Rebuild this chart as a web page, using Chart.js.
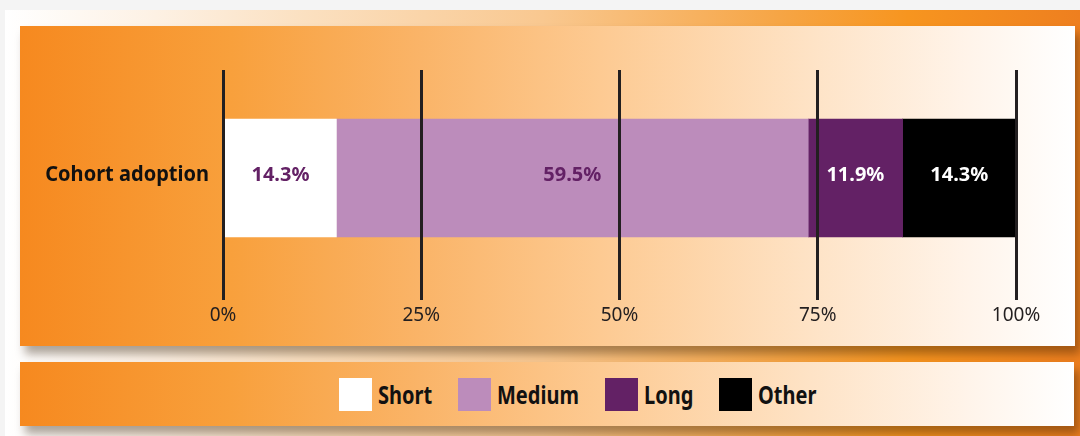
<!DOCTYPE html>
<html>
<head>
<meta charset="utf-8">
<script src="https://cdn.jsdelivr.net/npm/chart.js@4"></script>
<style>
  html, body { margin: 0; padding: 0; }
  body {
    width: 1080px; height: 436px; overflow: hidden; position: relative;
    background: #f4f4f4; font-family: "Noto Sans", sans-serif;
  }
  .frame {
    position: absolute; left: 5px; top: 10px; right: 0; bottom: 0;
    background: linear-gradient(to right, #ffffff 0%, #fdf1e4 14%, #fbe0c0 28%, #f9c890 50%, #f6a545 72%, #f7951f 84%, #ee7f1f 100%);
  }
  .panel {
    position: absolute; left: 20px; width: 1055px;
    background: linear-gradient(to right, #f6891f 0%, #f8a03c 20%, #fab468 38%, #fdca92 55%, #fee3c6 75%, #fff4ea 90%, #ffffff 100%);
    box-shadow: 5px 8px 9px rgba(40, 20, 0, 0.38);
  }
  #chartPanel { top: 26px; height: 320px; }
  #legendPanel { top: 362px; height: 64px; width: 1054px; }
  #legend {
    position: absolute; left: 319px; top: 0; height: 64px;
    display: flex; align-items: center;
  }
  .item { display: flex; align-items: center; margin-right: 26px; }
  .swatch { width: 33px; height: 33px; margin-right: 6px; }
  .name {
    display: inline-block; font-weight: bold; font-size: 25px; color: #111;
    transform: scaleX(0.8); transform-origin: 0 50%; white-space: nowrap;
  }
</style>
</head>
<body>
<div class="frame"></div>
<div class="panel" id="chartPanel"><canvas id="adoptionChart"></canvas></div>
<div class="panel" id="legendPanel"><div id="legend"></div></div>

<script>
const categories = ['Cohort adoption'];
const seriesNames = ['Short', 'Medium', 'Long', 'Other'];
const shortShare = [14.3];
const mediumShare = [59.5];
const longShare = [11.9];
const otherShare = [14.3];
const tickValues = [0, 25, 50, 75, 100];

const fills = ['#ffffff', '#bc8cbb', '#632165', '#000000'];
const labelColors = ['#632165', '#632165', '#ffffff', '#ffffff'];

// value text in the middle of each segment, plus a narrowed category name
const segmentLabels = {
    id: 'segmentLabels',
    afterDraw(chart) {
        const ctx = chart.ctx;
        ctx.save();
        ctx.font = 'bold 20px "Noto Sans"';
        ctx.textAlign = 'center';
        ctx.textBaseline = 'middle';
        chart.data.datasets.forEach((ds, i) => {
            chart.getDatasetMeta(i).data.forEach((bar, j) => {
                const p = bar.getCenterPoint();
                ctx.fillStyle = labelColors[i];
                ctx.fillText(ds.data[j].toFixed(1) + '%', p.x, p.y - 3);
            });
        });

        const y = chart.scales.y;
        ctx.font = 'bold 22px "Noto Sans"';
        ctx.textAlign = 'right';
        ctx.fillStyle = '#111111';
        chart.data.labels.forEach((lab, j) => {
            ctx.save();
            ctx.translate(y.right - 14, y.getPixelForValue(j) - 3);
            ctx.scale(0.91, 1);
            ctx.fillText(lab, 0, 0);
            ctx.restore();
        });
        ctx.restore();
    }
};

const ctx = document.getElementById('adoptionChart').getContext('2d');
const chart = new Chart(ctx, {
    type: 'bar',
    data: {
        labels: categories,
        datasets: [shortShare, mediumShare, longShare, otherShare].map((d, i) => ({
            label: seriesNames[i],
            data: d,
            backgroundColor: fills[i],
            borderWidth: 0,
            barThickness: 118
        }))
    },
    options: {
        indexAxis: 'y',
        responsive: true,
        maintainAspectRatio: false,
        animation: false,
        layout: { padding: { top: 44, right: 59, bottom: 0, left: 0 } },
        plugins: {
            legend: { display: false },
            tooltip: { enabled: false }
        },
        scales: {
            x: {
                stacked: true,
                min: 0,
                max: 100,
                afterBuildTicks: (s) => { s.ticks = tickValues.map(v => ({ value: v })); },
                afterFit: (s) => { s.height = 60; },
                ticks: {
                    callback: (v) => v + '%',
                    color: '#231f20',
                    font: { family: 'Noto Sans', size: 19 },
                    padding: 4,
                    maxRotation: 0
                },
                grid: { color: '#231f20', lineWidth: 3, tickLength: 14, z: 1 },
                border: { display: false }
            },
            y: {
                stacked: true,
                afterFit: (s) => { s.width = 203; },
                ticks: { display: false },
                grid: { display: false },
                border: { display: false }
            }
        }
    },
    plugins: [segmentLabels]
});

// legend boxes in the lower panel, taken from the chart's datasets
const legendEl = document.getElementById('legend');
chart.data.datasets.forEach((ds) => {
    const item = document.createElement('div');
    item.className = 'item';
    const sw = document.createElement('span');
    sw.className = 'swatch';
    sw.style.background = ds.backgroundColor;
    const name = document.createElement('span');
    name.className = 'name';
    name.textContent = ds.label;
    item.appendChild(sw);
    item.appendChild(name);
    legendEl.appendChild(item);
    // the text is squeezed horizontally, so give back the unused width
    name.style.marginRight = (-0.2 * name.offsetWidth) + 'px';
});
</script>
</body>
</html>
